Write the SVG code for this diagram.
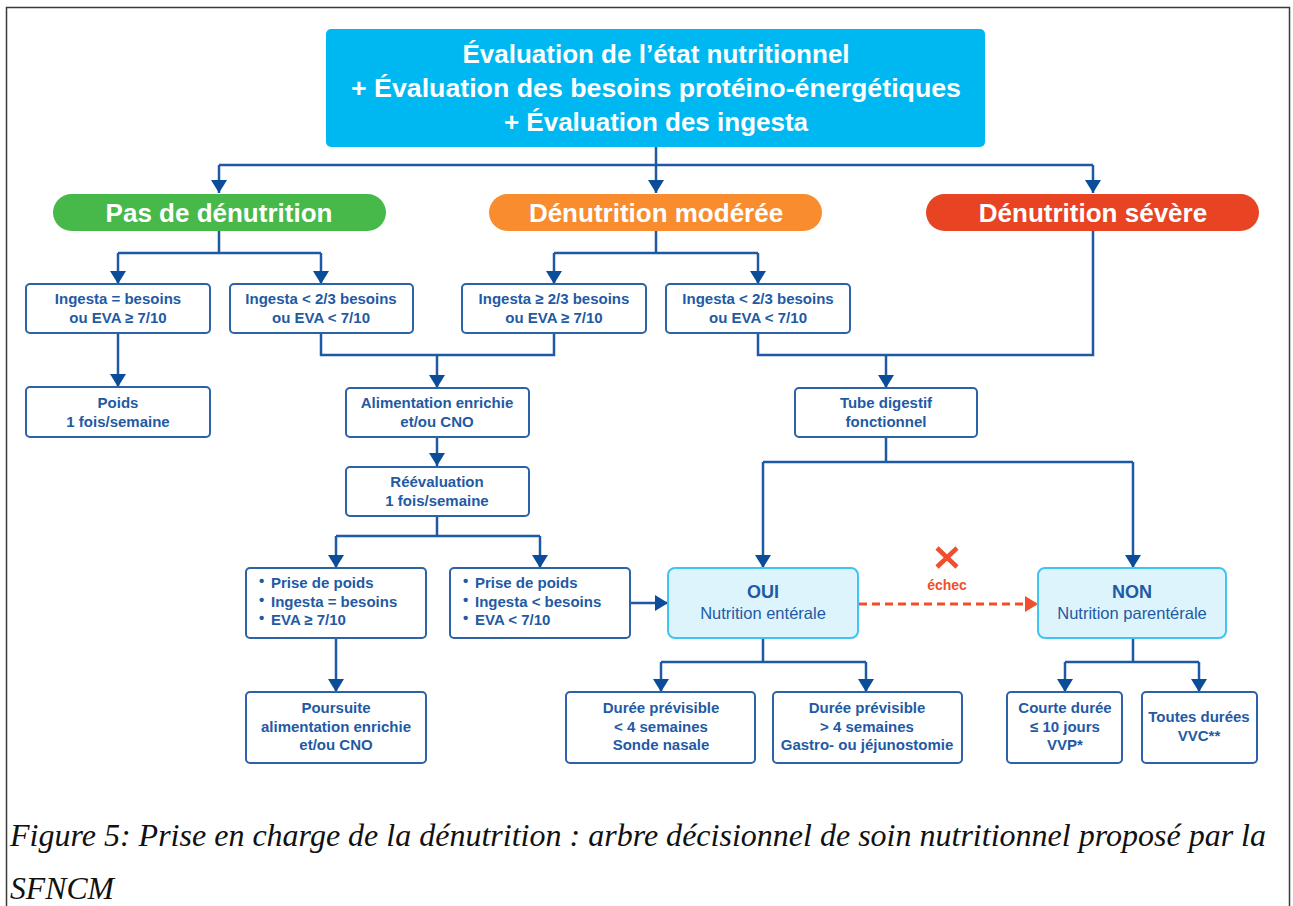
<svg xmlns="http://www.w3.org/2000/svg" width="1293" height="906" viewBox="0 0 1293 906">
<style>
.frame{fill:none;stroke:#3a3a3a;stroke-width:1.5}
.box{fill:#fff;stroke:#2b63a6;stroke-width:2}
.lbox{fill:#ddf4fc;stroke:#40c4f1;stroke-width:2}
.t{font-family:"Liberation Sans",Arial,sans-serif;font-weight:bold;font-size:15px;fill:#1f5aa4;text-anchor:middle}
.tl{font-family:"Liberation Sans",Arial,sans-serif;font-weight:bold;font-size:15px;fill:#1f5aa4}
.big{font-family:"Liberation Sans",Arial,sans-serif;font-weight:bold;font-size:18px;fill:#1f5aa4;text-anchor:middle}
.reg{font-family:"Liberation Sans",Arial,sans-serif;font-size:16.5px;fill:#1f5aa4;text-anchor:middle}
.w{font-family:"Liberation Sans",Arial,sans-serif;font-weight:bold;font-size:26px;fill:#fff;text-anchor:middle}
.c{fill:none;stroke:#1d5aa3;stroke-width:2.5}
.d{fill:none;stroke:#f04e2d;stroke-width:3;stroke-dasharray:8 5}
.cap{font-family:"Liberation Serif","Times New Roman",serif;font-style:italic;font-size:31px;fill:#111}
</style>
<defs>
<marker id="a" viewBox="0 0 13 16" refX="13" refY="8" markerWidth="13" markerHeight="16" markerUnits="userSpaceOnUse" orient="auto">
<path d="M0,0 L13,8 L0,16 z" fill="#0b4d98"/>
</marker>
<marker id="ar" viewBox="0 0 13 16" refX="13" refY="8" markerWidth="13" markerHeight="16" markerUnits="userSpaceOnUse" orient="auto">
<path d="M0,0 L13,8 L0,16 z" fill="#f04e2d"/>
</marker>
</defs>
<rect width="1293" height="906" fill="#fff"/>
<path class="frame" d="M6.5,906 V7.5 H1289.5 V906"/>

<g id="connectors">
<path class="c" d="M656,147 V193" marker-end="url(#a)"/>
<path class="c" d="M219,165 H1093"/>
<path class="c" d="M219,165 V193" marker-end="url(#a)"/>
<path class="c" d="M1093,165 V193" marker-end="url(#a)"/>
<path class="c" d="M219,231 V253 M118,253 H321"/>
<path class="c" d="M118,253 V284" marker-end="url(#a)"/>
<path class="c" d="M321,253 V284" marker-end="url(#a)"/>
<path class="c" d="M656,231 V253 M554,253 H758"/>
<path class="c" d="M554,253 V284" marker-end="url(#a)"/>
<path class="c" d="M758,253 V284" marker-end="url(#a)"/>
<path class="c" d="M118,333 V387" marker-end="url(#a)"/>
<path class="c" d="M321,333 V355 H554 V333"/>
<path class="c" d="M437,355 V388" marker-end="url(#a)"/>
<path class="c" d="M437,437 V466" marker-end="url(#a)"/>
<path class="c" d="M437,516 V536 M336,536 H540"/>
<path class="c" d="M336,536 V568" marker-end="url(#a)"/>
<path class="c" d="M540,536 V568" marker-end="url(#a)"/>
<path class="c" d="M336,638 V692" marker-end="url(#a)"/>
<path class="c" d="M630,603 H668" marker-end="url(#a)"/>
<path class="c" d="M1093,231 V355 H758 V333"/>
<path class="c" d="M886,355 V388" marker-end="url(#a)"/>
<path class="c" d="M886,437 V462 M763,462 H1133"/>
<path class="c" d="M763,462 V568" marker-end="url(#a)"/>
<path class="c" d="M1133,462 V568" marker-end="url(#a)"/>
<path class="c" d="M763,638 V662 M661,662 H866"/>
<path class="c" d="M661,662 V692" marker-end="url(#a)"/>
<path class="c" d="M866,662 V692" marker-end="url(#a)"/>
<path class="c" d="M1133,638 V662 M1065,662 H1199"/>
<path class="c" d="M1065,662 V692" marker-end="url(#a)"/>
<path class="c" d="M1199,662 V692" marker-end="url(#a)"/>
<path class="d" d="M859,604 H1038" marker-end="url(#ar)"/>
<g id="echec">
<path d="M937,548 L957,567 M957,548 L937,567" stroke="#f04e2d" stroke-width="4.5" fill="none"/>
<text x="947" y="590" text-anchor="middle" font-family="'Liberation Sans',Arial,sans-serif" font-weight="bold" font-size="14" fill="#f04e2d">échec</text>
</g>
</g>

<g id="n-top">
<rect x="326" y="29" width="659" height="118" rx="5" fill="#00b8f1"/>
<text class="w" x="656" y="63">Évaluation de l’état nutritionnel</text>
<text class="w" x="656" y="97" textLength="610" lengthAdjust="spacingAndGlyphs">+ Évaluation des besoins protéino-énergétiques</text>
<text class="w" x="656" y="131">+ Évaluation des ingesta</text>
</g>

<g id="n-pas">
<rect x="53" y="194" width="333" height="37" rx="18.5" fill="#47b94b"/>
<text class="w" x="219" y="222">Pas de dénutrition</text>
</g>
<g id="n-moderee">
<rect x="489" y="194" width="333" height="37" rx="18.5" fill="#f98c2e"/>
<text class="w" x="656" y="222">Dénutrition modérée</text>
</g>
<g id="n-severe">
<rect x="926" y="194" width="333" height="37" rx="18.5" fill="#e84423"/>
<text class="w" x="1093" y="222">Dénutrition sévère</text>
</g>

<g id="n-ing1">
<rect class="box" x="26" y="284" width="184" height="49" rx="4"/>
<text class="t" x="118" y="304">Ingesta = besoins</text>
<text class="t" x="118" y="323">ou EVA ≥ 7/10</text>
</g>
<g id="n-ing2">
<rect class="box" x="230" y="284" width="183" height="49" rx="4"/>
<text class="t" x="321" y="304">Ingesta &lt; 2/3 besoins</text>
<text class="t" x="321" y="323">ou EVA &lt; 7/10</text>
</g>
<g id="n-ing3">
<rect class="box" x="462" y="284" width="184" height="49" rx="4"/>
<text class="t" x="554" y="304">Ingesta ≥ 2/3 besoins</text>
<text class="t" x="554" y="323">ou EVA ≥ 7/10</text>
</g>
<g id="n-ing4">
<rect class="box" x="666" y="284" width="184" height="49" rx="4"/>
<text class="t" x="758" y="304">Ingesta &lt; 2/3 besoins</text>
<text class="t" x="758" y="323">ou EVA &lt; 7/10</text>
</g>

<g id="n-poids">
<rect class="box" x="26" y="387" width="184" height="50" rx="4"/>
<text class="t" x="118" y="408">Poids</text>
<text class="t" x="118" y="427">1 fois/semaine</text>
</g>
<g id="n-alim">
<rect class="box" x="346" y="388" width="183" height="49" rx="4"/>
<text class="t" x="437" y="408">Alimentation enrichie</text>
<text class="t" x="437" y="427">et/ou CNO</text>
</g>
<g id="n-tube">
<rect class="box" x="795" y="388" width="182" height="49" rx="4"/>
<text class="t" x="886" y="408">Tube digestif</text>
<text class="t" x="886" y="427">fonctionnel</text>
</g>
<g id="n-reeval">
<rect class="box" x="346" y="467" width="183" height="49" rx="4"/>
<text class="t" x="437" y="487">Réévaluation</text>
<text class="t" x="437" y="506">1 fois/semaine</text>
</g>

<g id="n-bullet1">
<rect class="box" x="246" y="568" width="180" height="70" rx="4"/>
<text class="tl" x="259" y="588"><tspan dy="-2">•</tspan><tspan x="271" dy="2">Prise de poids</tspan></text>
<text class="tl" x="259" y="607"><tspan dy="-2">•</tspan><tspan x="271" dy="2">Ingesta = besoins</tspan></text>
<text class="tl" x="259" y="625"><tspan dy="-2">•</tspan><tspan x="271" dy="2">EVA ≥ 7/10</tspan></text>
</g>
<g id="n-bullet2">
<rect class="box" x="450" y="568" width="180" height="70" rx="4"/>
<text class="tl" x="463" y="588"><tspan dy="-2">•</tspan><tspan x="475" dy="2">Prise de poids</tspan></text>
<text class="tl" x="463" y="607"><tspan dy="-2">•</tspan><tspan x="475" dy="2">Ingesta &lt; besoins</tspan></text>
<text class="tl" x="463" y="625"><tspan dy="-2">•</tspan><tspan x="475" dy="2">EVA &lt; 7/10</tspan></text>
</g>

<g id="n-oui">
<rect class="lbox" x="668" y="568" width="190" height="70" rx="7"/>
<text class="big" x="763" y="598">OUI</text>
<text class="reg" x="763" y="619">Nutrition entérale</text>
</g>
<g id="n-non">
<rect class="lbox" x="1038" y="568" width="188" height="70" rx="7"/>
<text class="big" x="1132" y="598">NON</text>
<text class="reg" x="1132" y="619">Nutrition parentérale</text>
</g>

<g id="n-poursuite">
<rect class="box" x="246" y="692" width="180" height="71" rx="4"/>
<text class="t" x="336" y="713">Poursuite</text>
<text class="t" x="336" y="732">alimentation enrichie</text>
<text class="t" x="336" y="750">et/ou CNO</text>
</g>
<g id="n-duree1">
<rect class="box" x="566" y="692" width="189" height="71" rx="4"/>
<text class="t" x="661" y="713">Durée prévisible</text>
<text class="t" x="661" y="732">&lt; 4 semaines</text>
<text class="t" x="661" y="750">Sonde nasale</text>
</g>
<g id="n-duree2">
<rect class="box" x="773" y="692" width="189" height="71" rx="4"/>
<text class="t" x="867" y="713">Durée prévisible</text>
<text class="t" x="867" y="732">&gt; 4 semaines</text>
<text class="t" x="867" y="750">Gastro- ou jéjunostomie</text>
</g>
<g id="n-courte">
<rect class="box" x="1007" y="692" width="115" height="71" rx="4"/>
<text class="t" x="1065" y="713">Courte durée</text>
<text class="t" x="1065" y="732">≤ 10 jours</text>
<text class="t" x="1065" y="750">VVP*</text>
</g>
<g id="n-toutes">
<rect class="box" x="1142" y="692" width="115" height="71" rx="4"/>
<text class="t" x="1199" y="722">Toutes durées</text>
<text class="t" x="1199" y="741">VVC**</text>
</g>

<g id="caption">
<text class="cap" x="10" y="846" textLength="1256" lengthAdjust="spacingAndGlyphs">Figure 5: Prise en charge de la dénutrition : arbre décisionnel de soin nutritionnel proposé par la</text>
<text class="cap" x="10" y="899" textLength="104" lengthAdjust="spacingAndGlyphs">SFNCM</text>
</g>
</svg>
